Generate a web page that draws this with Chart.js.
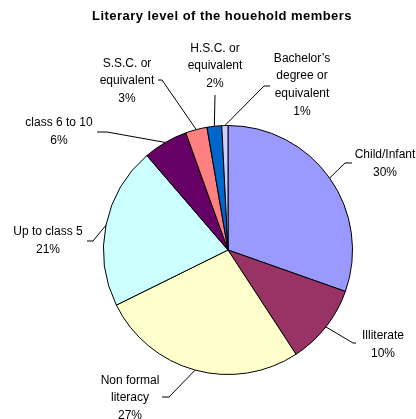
<!DOCTYPE html>
<html>
<head>
<meta charset="utf-8">
<title>Literary level of the houehold members</title>
<script src="https://cdn.jsdelivr.net/npm/chart.js@4"></script>
<style>
  html, body { margin: 0; padding: 0; background: #fff; }
  #wrap { position: relative; width: 416px; height: 419px; }
</style>
</head>
<body>
<div id="wrap"><canvas id="pie"></canvas></div>
<script>
// household members by literacy level (% of members)
const categories = [
  ["Child/Infant"],
  ["Illiterate"],
  ["Non formal", "literacy"],
  ["Up to class 5"],
  ["class 6 to 10"],
  ["S.S.C. or", "equivalent"],
  ["H.S.C. or", "equivalent"],
  ["Bachelor\u2019s", "degree or", "equivalent"]
];
const shares = [30.4, 10.4, 26.9, 21.0, 5.8, 2.8, 1.9, 0.8];
const sliceColors = ["#9999ff", "#993366", "#ffffcc", "#ccffff", "#660066", "#ff8080", "#0066cc", "#ccccff"];

// where each label sits: text centre, leader elbow and leader end
const labelSpots = [
  { x: 385, y: 164, elbow: [345, 163], end: [352, 163] },
  { x: 383, y: 345, elbow: [353, 343], end: [356, 343] },
  { x: 130, y: 398, elbow: [169, 397], end: [162, 397] },
  { x: 48,  y: 241, elbow: [93, 241],  end: [87, 241] },
  { x: 59,  y: 132, elbow: [107, 132], end: [97, 132] },
  { x: 127, y: 81,  elbow: [162, 80],  end: [158, 80] },
  { x: 215, y: 66,  elbow: [215, 95],  end: [215, 95] },
  { x: 302, y: 85,  elbow: [264, 86],  end: [270, 86] }
];

const LINE_H = 17.7;
const FONT = "12px 'Liberation Sans', Arial, sans-serif";

const pieLabels = {
  id: "pieLabels",
  afterDatasetsDraw(chart) {
    const ctx = chart.ctx;
    const meta = chart.getDatasetMeta(0);
    const total = shares.reduce((a, b) => a + b, 0);

    ctx.save();
    // title
    ctx.fillStyle = "#000";
    ctx.font = "bold 13px 'Liberation Sans', Arial, sans-serif";
    ctx.letterSpacing = "0.45px";
    ctx.textAlign = "center";
    ctx.textBaseline = "middle";
    ctx.fillText("Literary level of the houehold members", 222, 16);
    ctx.letterSpacing = "0px";

    ctx.font = FONT;
    ctx.strokeStyle = "#000";
    ctx.lineWidth = 1;

    meta.data.forEach((arc, i) => {
      const p = arc.getProps(["x", "y", "startAngle", "endAngle", "outerRadius"], true);
      const mid = (p.startAngle + p.endAngle) / 2;
      const ex = p.x + Math.cos(mid) * p.outerRadius;
      const ey = p.y + Math.sin(mid) * p.outerRadius;
      const spot = labelSpots[i];

      // leader line
      ctx.beginPath();
      ctx.moveTo(ex, ey);
      ctx.lineTo(spot.elbow[0], spot.elbow[1]);
      ctx.lineTo(spot.end[0], spot.end[1]);
      ctx.stroke();

      // name lines + percentage
      const lines = categories[i].concat([Math.round(shares[i] / total * 100) + "%"]);
      const top = spot.y - (lines.length - 1) * LINE_H / 2;
      lines.forEach((t, k) => ctx.fillText(t, spot.x, top + k * LINE_H));
    });
    ctx.restore();
  }
};

new Chart(document.getElementById("pie"), {
  type: "pie",
  data: {
    labels: categories,
    datasets: [{
      data: shares,
      backgroundColor: sliceColors,
      borderColor: "#000",
      borderWidth: 1,
      borderAlign: "center"
    }]
  },
  options: {
    responsive: true,
    maintainAspectRatio: false,
    animation: false,
    layout: { padding: { left: 103, right: 63, top: 125, bottom: 44 } },
    plugins: {
      legend: { display: false },
      title: { display: false },
      tooltip: { enabled: false }
    }
  },
  plugins: [pieLabels]
});
</script>
</body>
</html>
